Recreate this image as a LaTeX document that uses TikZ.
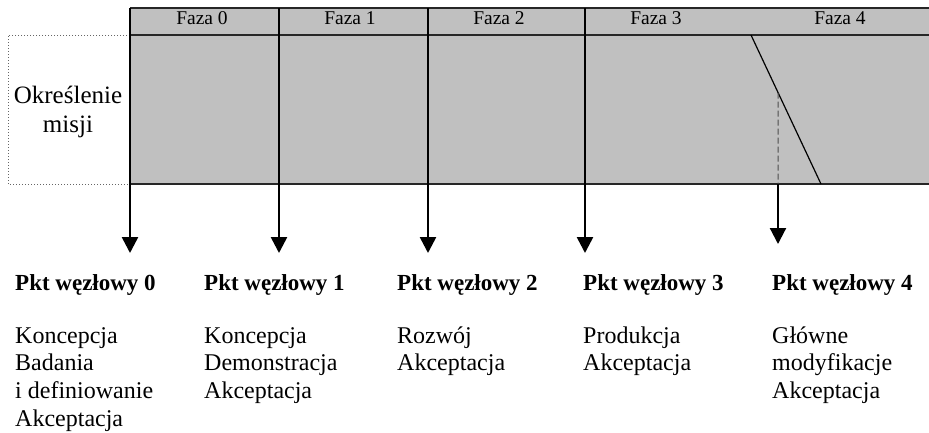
\documentclass[tikz,border=0pt]{standalone}
\usepackage{fontspec}
\setmainfont{Liberation Serif}
\usetikzlibrary{arrows.meta, calc, positioning}
\definecolor{bandgray}{RGB}{192,192,192}

\begin{document}
\begin{tikzpicture}[x=1pt, y=-1pt,
    faza/.style={font=\fontsize{19.5}{22}\selectfont, anchor=base, inner sep=0pt},
    pkt/.style={font=\fontsize{23}{27}\selectfont\bfseries, anchor=base west, inner sep=0pt},
    opis/.style={font=\fontsize{24}{27.7}\selectfont, align=left, anchor=north west, inner sep=0pt},
    arrow/.style={-{Triangle[width=16pt,length=16pt]}, line width=2.6pt},
    rule/.style={line width=1.4pt, draw=black!85}]
    \useasboundingbox (0,0) rectangle (929,432);
    \fill[bandgray] (130,8) rectangle (929,184);
    \draw[rule] (130,8) -- (929,8);
    \draw[rule] (130,35) -- (929,35);
    \draw[rule] (130,184) -- (929,184);
    \draw[dotted, line width=1pt, black!60] (130,35) -- (8,35) -- (8,184) -- (130,184);
    \node[font=\fontsize{25}{29}\selectfont, align=center, anchor=north, inner sep=0pt] (om) at (68,82.7) {\strut Określenie\\misji};
    \coordinate (t0) at (130,8);
    \coordinate (t1) at (279,8);
    \coordinate (t2) at (428,8);
    \coordinate (t3) at (585,8);
    \coordinate (a0) at (130,253);
    \coordinate (a1) at (279,253);
    \coordinate (a2) at (428,253);
    \coordinate (a3) at (585,253);
    \coordinate (s1) at (751,35);
    \coordinate (s2) at (821,184);
    \coordinate (k4) at ($(s1)!0.386!(s2)$);
    \coordinate (b4) at (778,184);
    \coordinate (a4) at (778,244);
    \draw[arrow] (t0) -- (a0);
    \draw[arrow] (t1) -- (a1);
    \draw[arrow] (t2) -- (a2);
    \draw[arrow] (t3) -- (a3);
    \draw[line width=1.2pt] (s1) -- (s2);
    \draw[dash pattern=on 6pt off 3pt, line width=1pt, black!70] (k4) -- (b4);
    \draw[arrow, line width=2.2pt] (b4) -- (a4);
    \node[faza] (f0) at (202,24) {Faza 0};
    \node[faza] (f1) at (350,24) {Faza 1};
    \node[faza] (f2) at (499,24) {Faza 2};
    \node[faza] (f3) at (656,24) {Faza 3};
    \node[faza] (f4) at (840,24) {Faza 4};
    \node[pkt] (p0) at (15,290) {Pkt węzłowy 0};
    \node[pkt] (p1) at (204,290) {Pkt węzłowy 1};
    \node[pkt] (p2) at (397,290) {Pkt węzłowy 2};
    \node[pkt] (p3) at (583,290) {Pkt węzłowy 3};
    \node[pkt] (p4) at (772,290) {Pkt węzłowy 4};
    \node[opis] (d0) at (15,323.6) {\strut Koncepcja\\Badania\\i definiowanie\\Akceptacja};
    \node[opis] (d1) at (204,323.6) {\strut Koncepcja\\Demonstracja\\Akceptacja};
    \node[opis] (d2) at (397,323.6) {\strut Rozwój\\Akceptacja};
    \node[opis] (d3) at (583,323.6) {\strut Produkcja\\Akceptacja};
    \node[opis] (d4) at (772,323.6) {\strut Główne\\modyfikacje\\Akceptacja};
\end{tikzpicture}
\end{document}
